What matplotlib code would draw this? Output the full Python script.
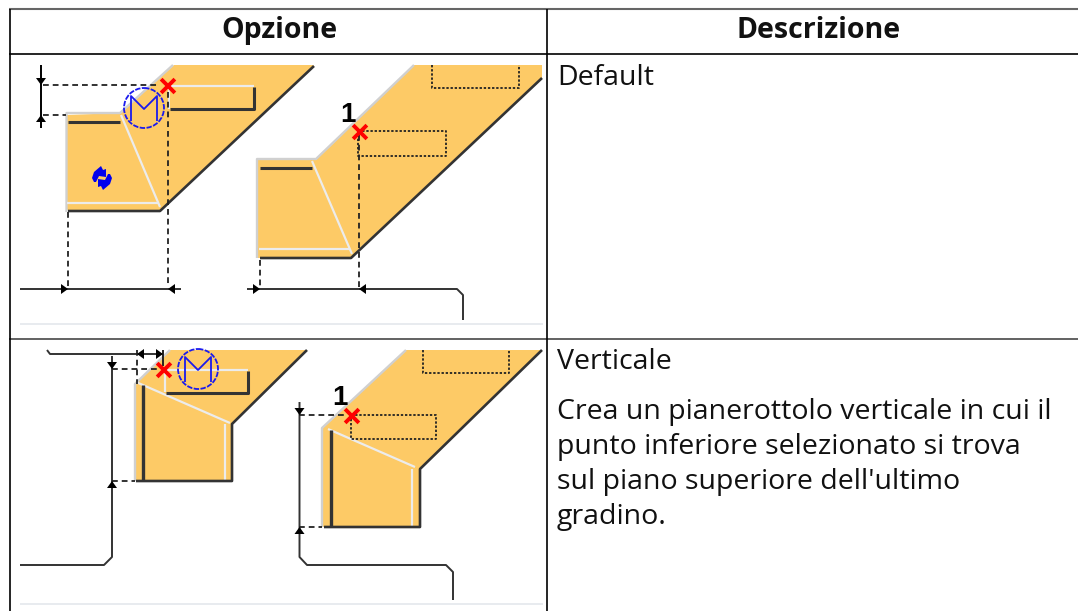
import matplotlib
matplotlib.use("Agg")
import matplotlib.pyplot as plt
from matplotlib.patches import Polygon, Circle

plt.rcParams['font.family'] = ['Open Sans', 'DejaVu Sans']

W, H = 1078, 611
ORANGE = '#fdca66'
LIGHT = '#d0d0d0'
PALE = '#ececec'
DARK = '#333333'

# table text
headers = ["Opzione", "Descrizione"]
option_names = ["Default", "Verticale"]
verticale_lines = ["Crea un pianerottolo verticale in cui il",
                   "punto inferiore selezionato si trova",
                   "sul piano superiore dell'ultimo",
                   "gradino."]

fig = plt.figure(figsize=(W / 100, H / 100), dpi=100)
ax = fig.add_axes([0, 0, 1, 1])
ax.set_xlim(0, W)
ax.set_ylim(H, 0)
ax.axis('off')


def line(xs, ys, c=DARK, lw=1.4, ls='-', z=3):
    ax.plot(xs, ys, color=c, lw=lw, ls=ls, zorder=z, solid_capstyle='butt')


def dash(xs, ys):
    ax.plot(xs, ys, color='#222222', lw=1.3, ls=(0, (3.2, 2.2)), zorder=4)


def dots(xs, ys):
    ax.plot(xs, ys, color='#222222', lw=1.3, ls=(0, (1.3, 1.0)), zorder=4)


def arrow(x, y, d):
    # filled dimension arrowhead, tip on the extension line
    a, b = 7, 5
    pts = {'r': [(x, y), (x - a, y - b), (x - a, y + b)],
           'l': [(x, y), (x + a, y - b), (x + a, y + b)],
           'd': [(x, y), (x - b, y - a), (x + b, y - a)],
           'u': [(x, y), (x - b, y + a), (x + b, y + a)]}[d]
    ax.add_patch(Polygon(pts, closed=True, fc='black', ec='none', zorder=5))


def cross(x, y):
    ax.plot([x - 5.5, x + 5.5], [y - 5.5, y + 5.5], color='#ff0000', lw=2.8, zorder=7)
    ax.plot([x - 5.5, x + 5.5], [y + 5.5, y - 5.5], color='#ff0000', lw=2.8, zorder=7)


def fill(pts):
    ax.add_patch(Polygon(pts, closed=True, fc=ORANGE, ec='none', zorder=1))


def symbol_m(x, y):
    ax.add_patch(Circle((x, y), 20, fc='none', ec='#1a1aee', lw=1.3, ls=(0, (3, 0.8)), zorder=6))
    line([x - 13, x - 13, x, x + 13, x + 13], [y + 13, y - 12, y + 1, y - 12, y + 13], c='#1a1aee', lw=1.3, z=6)


def refresh_icon(x, y):
    # the two curled blue arrows of the rotate symbol
    shape = [(-10, 0), (-8, -6), (-1, -12), (1, -8), (4, -9), (4, -1), (-3, -2), (-6, 4), (-8, 4)]
    for s in (1, -1):
        pts = [(x + s * px, y + s * py) for px, py in shape]
        ax.add_patch(Polygon(pts, closed=True, fc='#0000ee', ec='none', zorder=6))


# first row, left drawing
fill([(67, 115), (121, 113), (174, 65), (314, 65), (167, 204), (161, 210), (67, 210)])
line([66.5, 66.5, 120, 173], [212, 113, 113, 65], c=LIGHT, lw=1.7)
line([121, 160], [115, 207], c=PALE, lw=1.6)
line([67, 159], [203, 203], c=PALE, lw=1.6)
line([68, 120], [122, 122], lw=2.2)
line([68, 160, 314], [211, 211, 66], lw=1.9)
line([170, 254], [86, 86], c=PALE, lw=1.6)
line([254, 254, 170], [87, 109, 109], lw=2.2)
line([169, 169], [87, 109], c=PALE, lw=1.4)
dash([43, 160], [85, 85])
dash([43, 66], [115, 115])
dash([68, 68], [212, 287])
dash([168, 168], [92, 287])
line([41, 41], [65, 128], c='black')
arrow(41, 85, 'd')
arrow(41, 115, 'u')
line([20, 181], [289, 289])
arrow(68, 289, 'r')
arrow(168, 289, 'l')
cross(168, 86)
symbol_m(144, 108)
refresh_icon(102, 178)

# first row, right drawing
fill([(257, 160), (316, 160), (414, 65), (542, 65), (542, 79), (358, 250), (352, 258), (257, 258)])
line([257, 257, 316, 414], [258, 159, 159, 65], c=LIGHT, lw=1.7)
line([312, 352], [161, 254], c=PALE, lw=1.6)
line([259, 350], [249, 249], c=PALE, lw=1.6)
line([260, 312], [168, 168], lw=2.2)
line([260, 351, 542], [258, 258, 78], lw=1.9)
dots([358, 446, 446, 358, 358], [131, 131, 156, 156, 131])
dots([432, 432, 519, 519], [65, 88, 88, 65])
dash([359, 359], [135, 287])
dash([260, 260], [260, 287])
line([247, 457, 463, 463], [289, 289, 295, 320])
arrow(260, 289, 'r')
arrow(359, 289, 'l')
cross(360, 132)
ax.text(348, 115, "1", fontsize=20, fontweight='bold', ha='center', va='center', color='black',
        family='Liberation Sans', zorder=6)

# second row, left drawing
fill([(136, 384), (170, 350), (307, 350), (232, 424), (232, 481), (136, 481)])
line([135, 135, 170], [481, 384, 350], c=LIGHT, lw=1.7)
line([136, 230], [382, 423], c=PALE, lw=1.6)
line([165, 248], [370, 370], c=PALE, lw=1.6)
line([165, 165], [370, 392], c=PALE, lw=1.6)
line([166, 248, 248], [393, 393, 371], lw=2.2)
line([142.5, 142.5], [385, 481], lw=2.4)
line([225, 225], [424, 480], c=PALE, lw=1.6)
line([136, 232, 232, 307], [481, 481, 424, 350], lw=1.9)
dash([112, 160], [369, 369])
dash([112, 135], [481, 481])
dash([137, 137], [350, 384])
line([47, 50, 163], [350, 354, 354])
arrow(137, 354, 'l')
arrow(163, 354, 'r')
line([163, 163], [350, 366], c='#222222')
line([20, 104, 112, 112], [565, 565, 557, 356])
arrow(112, 369, 'd')
arrow(112, 481, 'u')
cross(164, 370)
symbol_m(198, 369)

# second row, right drawing
fill([(323, 428), (406, 350), (542, 350), (420, 469), (420, 527), (323, 527)])
line([322, 322, 406], [527, 428, 350], c=LIGHT, lw=1.7)
line([328, 415], [429, 467], c=PALE, lw=1.6)
line([330.5, 330.5], [430, 526], lw=2.4)
line([412, 412], [469, 526], c=PALE, lw=1.6)
line([324, 420, 420, 542], [527, 527, 469, 350], lw=1.9)
dots([351, 436, 436, 351, 351], [415, 415, 439, 439, 415])
dots([423, 423, 509, 509], [350, 373, 373, 350])
dash([299, 345], [415, 415])
dash([299, 322], [527, 527])
line([299.5, 299.5, 307, 446, 453, 453], [402, 557, 565, 565, 572, 600])
arrow(299.5, 415, 'd')
arrow(299.5, 527, 'u')
cross(352, 416)
ax.text(340, 398, "1", fontsize=20, fontweight='bold', ha='center', va='center', color='black',
        family='Liberation Sans', zorder=6)

# footer rules under the drawings
line([20, 543], [324, 324], c='#e4e8ec', lw=1.2)
line([20, 543], [604, 604], c='#e4e8ec', lw=1.2)

# table grid
line([9, W], [9, 9], c='#666666', lw=1.5, z=8)
line([9, W], [54, 54], c='black', lw=1.2, z=8)
line([9, W], [339, 339], c='#555555', lw=1.3, z=8)
line([9.5, 9.5], [9, H], c='black', lw=1.2, z=8)
line([547.2, 547.2], [9, H], c='black', lw=1.2, z=8)

# table text
ax.text(279, 38, headers[0], fontsize=20.5, fontweight='bold', ha='center', va='baseline', color='#111111')
ax.text(819, 38, headers[1], fontsize=20.5, fontweight='bold', ha='center', va='baseline', color='#111111')
ax.text(557, 85, option_names[0], fontsize=20.5, va='baseline', color='#111111')
ax.text(557, 369, option_names[1], fontsize=20.5, va='baseline', color='#111111')
for i, txt in enumerate(verticale_lines):
    ax.text(557, 419 + i * 35, txt, fontsize=20.5, va='baseline', color='#111111')

fig.savefig('out.png', dpi=100)
